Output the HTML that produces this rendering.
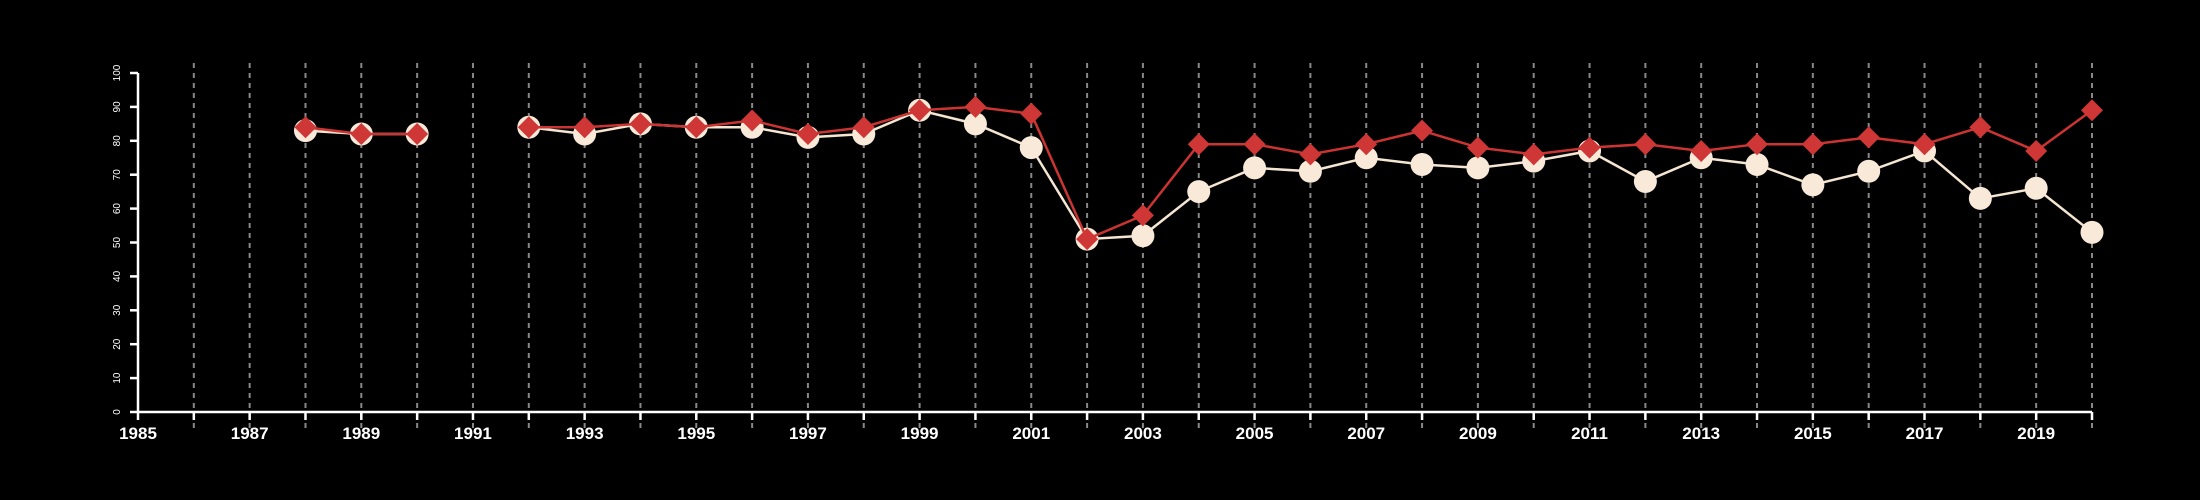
<!DOCTYPE html>
<html><head><meta charset="utf-8"><style>
html,body{margin:0;padding:0;background:#000;}
svg{display:block;font-family:"Liberation Sans",Arial,sans-serif;}
</style></head><body>
<svg id="chart" width="2200" height="500" viewBox="0 0 2200 500" xmlns="http://www.w3.org/2000/svg">
<rect width="2200" height="500" fill="#000"/>
<g id="grid"></g><g id="axes"></g><g id="series"></g>
</svg>
<script>
const years = [1988,1989,1990,1991,1992,1993,1994,1995,1996,1997,1998,1999,2000,2001,2002,2003,2004,2005,2006,2007,2008,2009,2010,2011,2012,2013,2014,2015,2016,2017,2018,2019,2020];
const whiteValues = [83,82,82,null,84,82,85,84,84,81,82,89,85,78,51,52,65,72,71,75,73,72,74,77,68,75,73,67,71,77,63,66,53];
const redValues = [84,82,82,null,84,84,85,84,86,82,84,89,90,88,51,58,79,79,76,79,83,78,76,78,79,77,79,79,81,79,84,77,89];
const yTicks = [0,10,20,30,40,50,60,70,80,90,100];
const xStart = 1985, xEnd = 2020;

const NS = "http://www.w3.org/2000/svg";
const X0 = 138, X1 = 2092, Y0 = 412, Y1 = 73;
function xs(v){ return X0 + (v - xStart) * (X1 - X0) / (xEnd - xStart); }
function ys(v){ return Y0 - v * (Y0 - Y1) / 100; }
function mk(tag, attrs, parent){ const e = document.createElementNS(NS, tag); for (const k in attrs) e.setAttribute(k, attrs[k]); parent.appendChild(e); return e; }

const grid = document.getElementById('grid');
const axes = document.getElementById('axes');
const series = document.getElementById('series');

for (let yr = xStart + 1; yr <= xEnd; yr++) {
  const l = mk('line', {x1: xs(yr), x2: xs(yr), y1: 63, y2: 428, stroke: '#888', 'stroke-width': 2, 'stroke-dasharray': '5,5'}, grid);
  
  
}

const xa = mk('line', {x1: xs(xStart), x2: xs(xEnd), y1: Y0, y2: Y0, stroke: '#fff', 'stroke-width': 2.5}, axes);


for (let yr = xStart; yr <= xEnd; yr++) {
  const t = mk('line', {x1: xs(yr), x2: xs(yr), y1: Y0, y2: Y0 + 8, stroke: '#fff', 'stroke-width': 2.5}, axes);
  
  
  if ((yr - xStart) % 2 === 0) {
    const tx = mk('text', {x: xs(yr), y: 439, fill: '#fff', 'font-size': 17, 'font-weight': 'bold', 'text-anchor': 'middle'}, axes);
    tx.textContent = yr;
    
    
  }
}
const ya = mk('line', {x1: X0, x2: X0, y1: ys(0), y2: ys(100), stroke: '#fff', 'stroke-width': 2.5}, axes);


yTicks.forEach(v => {
  const t = mk('line', {x1: X0 - 8, x2: X0, y1: ys(v), y2: ys(v), stroke: '#fff', 'stroke-width': 2.5}, axes);
  
  
  const tx = mk('text', {x: 0, y: 0, fill: '#fff', 'font-size': 10, 'text-anchor': 'middle', transform: 'translate(120,' + ys(v) + ') rotate(-90)'}, axes);
  tx.textContent = v;
  
  
});

function drawLine(vals, color, name){
  let seg = [];
  const segs = [];
  vals.forEach((v, i) => { if (v === null) { if (seg.length) segs.push(seg); seg = []; } else seg.push(xs(years[i]) + ',' + ys(v)); });
  if (seg.length) segs.push(seg);
  segs.forEach(s => {
    const p = mk('polyline', {points: s.join(' '), fill: 'none', stroke: color, 'stroke-width': 2.5}, series);
    
    
  });
}
drawLine(whiteValues, '#f5e6d3', 'white-series');
whiteValues.forEach((v, i) => {
  if (v === null) return;
  const c = mk('circle', {cx: xs(years[i]), cy: ys(v), r: 11.5, fill: '#f8e9d8'}, series);
  
  
});
drawLine(redValues, '#cc3333', 'red-series');
redValues.forEach((v, i) => {
  if (v === null) return;
  const x = xs(years[i]), y = ys(v), r = 11;
  const d = mk('polygon', {points: `${x},${y-r} ${x+r},${y} ${x},${y+r} ${x-r},${y}`, fill: '#cf3636'}, series);
  
  
});
</script>
</body></html>
